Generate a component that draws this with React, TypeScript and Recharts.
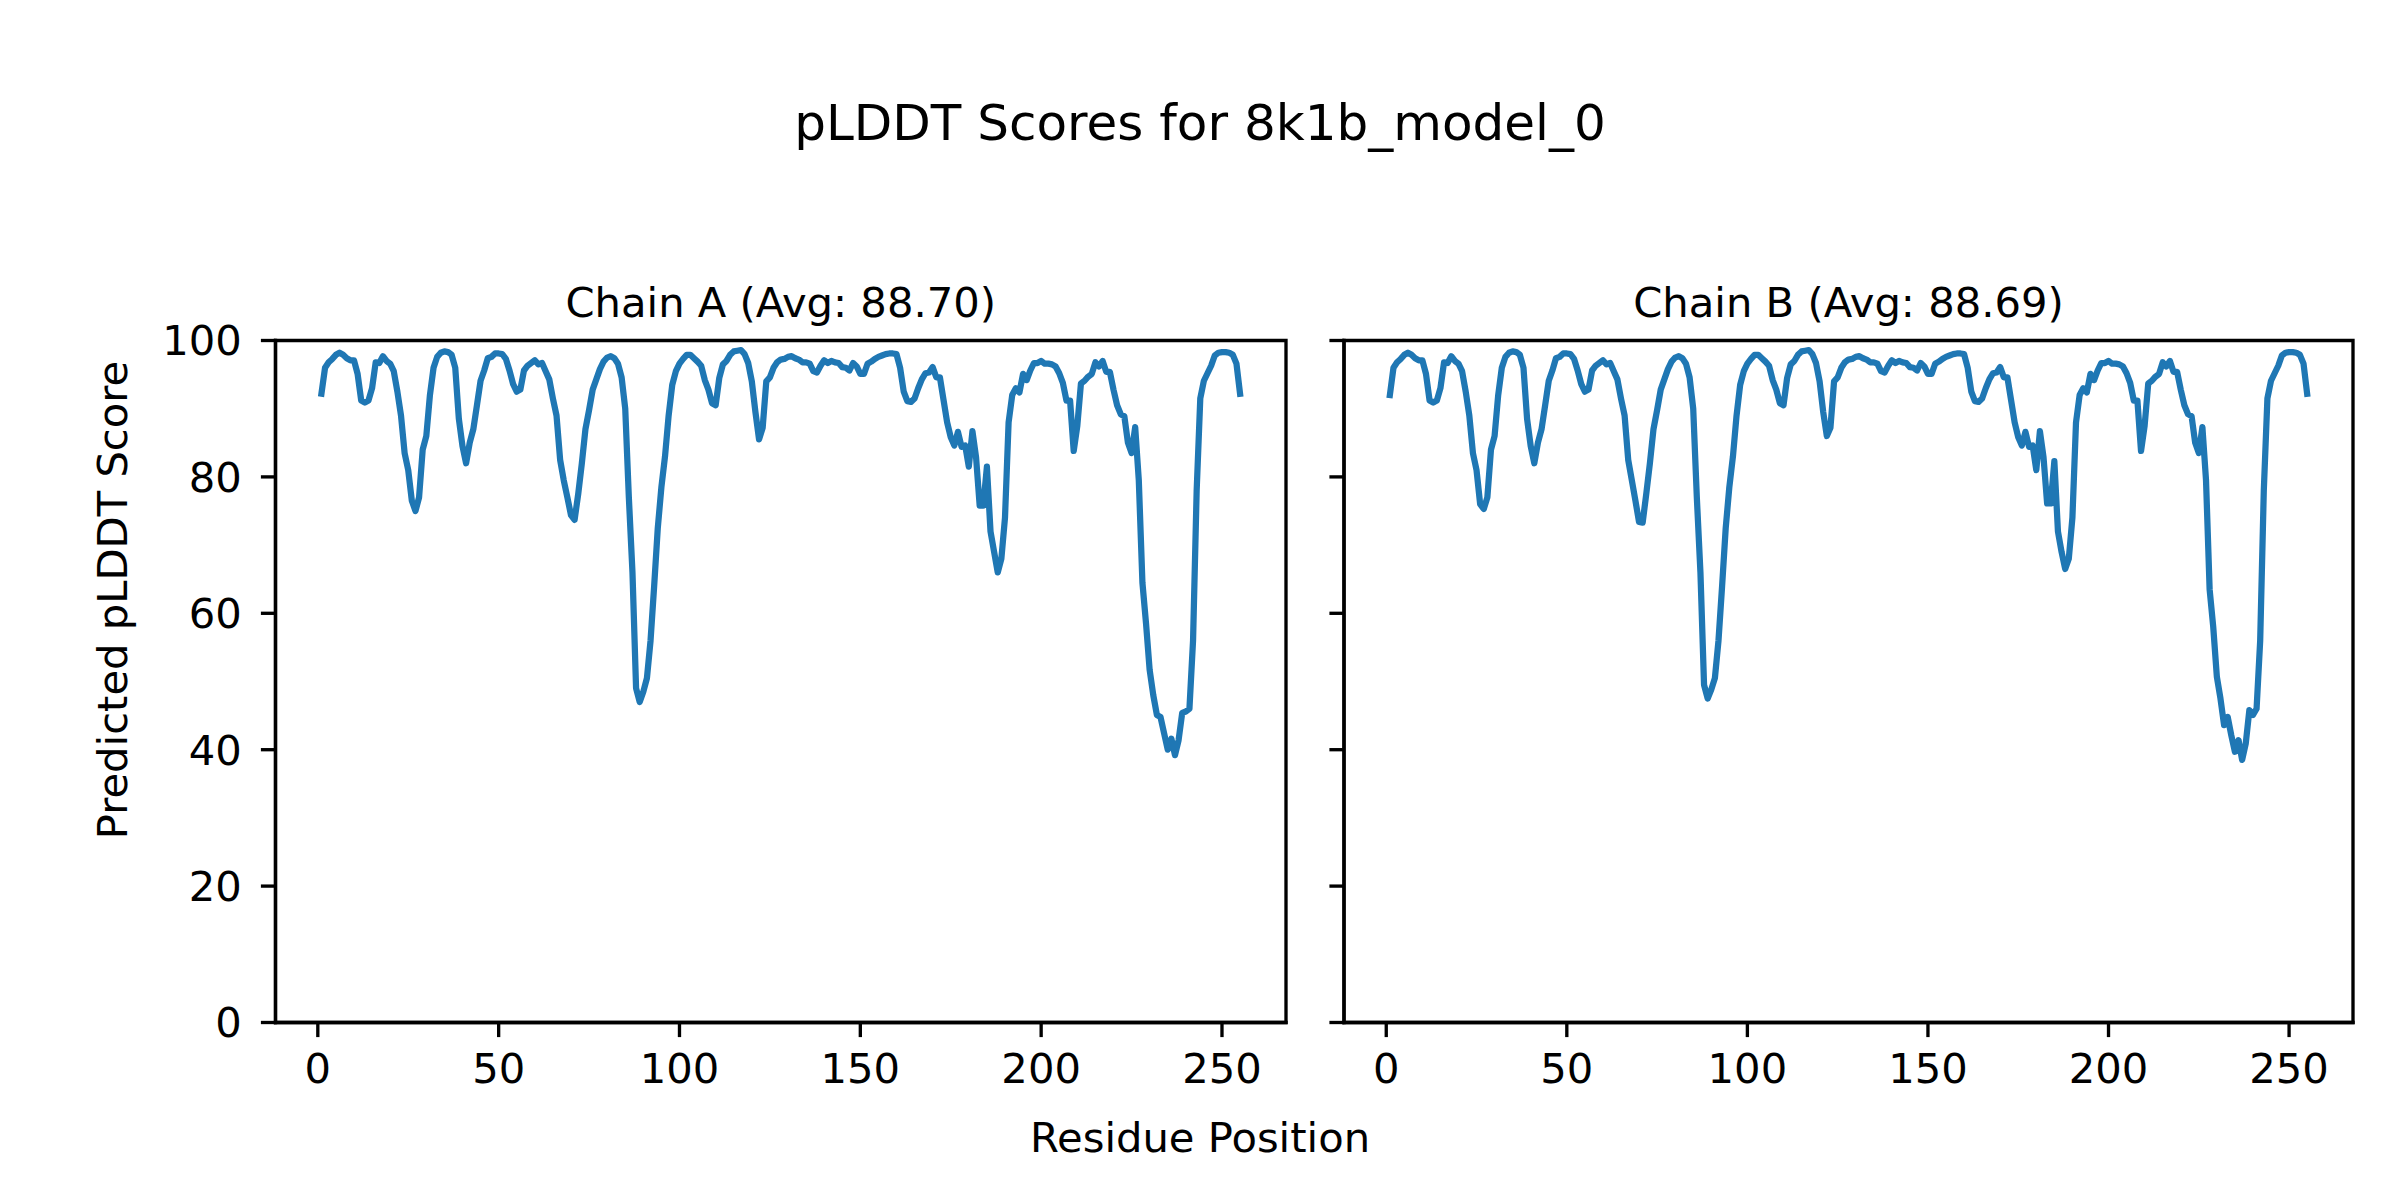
import { LineChart, Line, XAxis, YAxis, ReferenceArea } from 'recharts';

const FIG_TITLE = 'pLDDT Scores for 8k1b_model_0';
const X_LABEL = 'Residue Position';
const Y_LABEL = 'Predicted pLDDT Score';
const CHAIN_TITLES = ['Chain A (Avg: 88.70)', 'Chain B (Avg: 88.69)'];

const X_TICKS = [0, 50, 100, 150, 200, 250];
const Y_TICKS = [0, 20, 40, 60, 80, 100];

// per-residue pLDDT
const CHAIN_A = [
  92.2, 96.0, 96.8, 97.3, 97.9, 98.2, 97.9, 97.4, 97.1, 97.1,
  95.1, 91.2, 90.9, 91.2, 93.0, 96.8, 96.7, 97.7, 97.0, 96.6,
  95.5, 92.5, 89.0, 83.5, 81.0, 76.5, 75.0, 77.0, 84.0, 86.0,
  92.0, 96.0, 97.6, 98.2, 98.4, 98.3, 97.9, 96.0, 88.5, 84.5,
  82.0, 85.0, 87.0, 90.5, 94.1, 95.6, 97.4, 97.6, 98.1, 98.1,
  98.0, 97.3, 95.6, 93.6, 92.5, 92.8, 95.6, 96.3, 96.7, 97.1,
  96.5, 96.7, 95.5, 94.3, 91.5, 89.0, 82.5, 79.5, 77.0, 74.4,
  73.7, 77.5, 82.0, 87.0, 89.8, 92.8, 94.3, 95.8, 96.9, 97.5,
  97.7, 97.4, 96.6, 94.6, 90.0, 77.0, 66.0, 49.0, 47.0, 48.5,
  50.5, 56.0, 64.0, 72.5, 78.5, 83.0, 89.0, 93.5, 95.5, 96.6,
  97.3, 97.9, 97.9, 97.4, 96.9, 96.3, 94.2, 92.8, 90.8, 90.5,
  94.5, 96.5, 97.0, 97.9, 98.4, 98.5, 98.6, 98.0, 96.7, 94.0,
  89.5, 85.5, 87.2, 94.0, 94.6, 96.0, 96.8, 97.2, 97.3, 97.6,
  97.7, 97.4, 97.2, 96.8, 96.8, 96.6, 95.5, 95.3, 96.3, 97.1,
  96.7, 97.0, 96.8, 96.7, 96.1, 96.0, 95.6, 96.7, 96.2, 95.1,
  95.1, 96.6, 96.9, 97.3, 97.6, 97.8, 98.0, 98.1, 98.1, 98.0,
  96.0, 92.5, 91.1, 91.0, 91.5, 93.0, 94.3, 95.2, 95.3, 96.1,
  94.6, 94.6, 91.3, 88.0, 85.8, 84.6, 86.6, 84.4, 84.6, 81.5,
  86.7, 82.9, 75.8, 75.8, 81.5, 72.0, 69.0, 66.0, 68.0, 74.0,
  88.0, 92.0, 93.0, 92.4, 95.1, 94.2, 95.6, 96.7, 96.7, 97.0,
  96.6, 96.6, 96.5, 96.2, 95.2, 93.8, 91.2, 91.2, 83.8, 87.5,
  93.7, 94.1, 94.7, 95.1, 96.8, 96.2, 97.0, 95.4, 95.4, 92.8,
  90.5, 89.2, 88.9, 85.0, 83.5, 87.3, 79.5, 64.5, 58.5, 51.7,
  48.0, 45.1, 44.8, 42.4, 40.0, 41.6, 39.2, 41.4, 45.4, 45.6,
  46.0, 56.0, 78.0, 91.5, 94.1, 95.2, 96.3, 97.8, 98.2, 98.3,
  98.3, 98.2, 97.9, 96.6, 92.2,
];

const CHAIN_B = [
  92.0, 96.0, 96.8, 97.3, 97.9, 98.2, 97.9, 97.4, 97.1, 97.1,
  95.1, 91.2, 90.9, 91.2, 93.0, 96.8, 96.7, 97.7, 97.0, 96.6,
  95.5, 92.5, 89.0, 83.5, 81.0, 76.0, 75.3, 77.0, 84.0, 86.0,
  92.0, 96.0, 97.6, 98.2, 98.4, 98.3, 97.9, 96.0, 88.5, 84.5,
  82.0, 85.0, 87.0, 90.5, 94.1, 95.6, 97.4, 97.6, 98.1, 98.1,
  98.0, 97.3, 95.6, 93.6, 92.5, 92.8, 95.6, 96.3, 96.7, 97.1,
  96.5, 96.7, 95.5, 94.3, 91.5, 89.0, 82.5, 79.5, 76.5, 73.4,
  73.3, 77.5, 82.0, 87.0, 89.8, 92.8, 94.3, 95.8, 96.9, 97.5,
  97.7, 97.4, 96.6, 94.6, 90.0, 77.0, 66.0, 49.5, 47.5, 48.8,
  50.5, 56.0, 64.0, 72.5, 78.5, 83.0, 89.0, 93.5, 95.5, 96.6,
  97.3, 97.9, 97.9, 97.4, 96.9, 96.3, 94.2, 92.8, 90.8, 90.5,
  94.5, 96.5, 97.0, 97.9, 98.4, 98.5, 98.6, 98.0, 96.7, 94.0,
  89.5, 86.0, 87.2, 94.0, 94.6, 96.0, 96.8, 97.2, 97.3, 97.6,
  97.7, 97.4, 97.2, 96.8, 96.8, 96.6, 95.5, 95.3, 96.3, 97.1,
  96.7, 97.0, 96.8, 96.7, 96.1, 96.0, 95.6, 96.7, 96.2, 95.1,
  95.1, 96.6, 96.9, 97.3, 97.6, 97.8, 98.0, 98.1, 98.1, 98.0,
  96.0, 92.5, 91.1, 91.0, 91.5, 93.0, 94.3, 95.2, 95.3, 96.1,
  94.6, 94.6, 91.3, 88.0, 85.8, 84.6, 86.6, 84.4, 84.6, 81.0,
  86.7, 82.9, 76.1, 76.1, 82.3, 72.0, 69.0, 66.5, 68.0, 74.0,
  88.0, 92.0, 93.0, 92.4, 95.1, 94.2, 95.6, 96.7, 96.7, 97.0,
  96.6, 96.6, 96.5, 96.2, 95.2, 93.8, 91.2, 91.2, 83.8, 87.5,
  93.7, 94.1, 94.7, 95.1, 96.8, 96.2, 97.0, 95.4, 95.4, 92.8,
  90.5, 89.2, 88.9, 85.0, 83.5, 87.3, 79.5, 63.5, 58.0, 50.7,
  47.5, 43.6, 44.8, 42.1, 39.7, 41.4, 38.5, 40.9, 45.8, 45.1,
  46.0, 56.0, 78.0, 91.5, 94.1, 95.2, 96.3, 97.8, 98.2, 98.3,
  98.3, 98.2, 97.9, 96.6, 92.2,
];

const RESIDUES = CHAIN_A.map((_, i) => i + 1);

const LINE_COLOR = '#1f77b4';
const FONT = 'DejaVu Sans';
const FS = 41.7;
const SPINE = 3.33;
const X_DOMAIN: [number, number] = [-11.7, 267.7];
const Y_DOMAIN: [number, number] = [0, 100];

const spine = { stroke: '#000', strokeWidth: SPINE, strokeLinecap: 'square' as const };
const tickStyle = { fill: '#000', fontSize: FS, fontFamily: FONT };

function Panel({ scores, width, yAxisWidth, right, showYLabels }: {
  scores: number[];
  width: number;
  yAxisWidth: number;
  right: number;
  showYLabels: boolean;
}) {
  const data = RESIDUES.map((pos, i) => ({ pos, score: scores[i] }));
  return (
    <LineChart width={width} height={1200} data={data} margin={{ top: 340.5, right, bottom: 0, left: 0 }}>
      <XAxis
        dataKey="pos"
        type="number"
        domain={X_DOMAIN}
        ticks={X_TICKS}
        interval={0}
        allowDataOverflow
        height={177.5}
        tickSize={14.6}
        tickMargin={16}
        tick={tickStyle}
        tickLine={{ stroke: '#000', strokeWidth: SPINE }}
        axisLine={spine}
      />
      <YAxis
        type="number"
        domain={Y_DOMAIN}
        ticks={Y_TICKS}
        interval={0}
        allowDataOverflow
        width={yAxisWidth}
        tickSize={14.6}
        tickMargin={19}
        tick={tickStyle}
        tickFormatter={(v: number) => (showYLabels ? String(v) : '')}
        tickLine={{ stroke: '#000', strokeWidth: SPINE }}
        axisLine={spine}
      />
      <Line
        type="linear"
        dataKey="score"
        stroke={LINE_COLOR}
        strokeWidth={6.25}
        strokeLinejoin="round"
        strokeLinecap="square"
        dot={false}
        activeDot={false}
        isAnimationActive={false}
      />
      {/* axes frame (top and right spines) */}
      <ReferenceArea
        x1={X_DOMAIN[0]}
        x2={X_DOMAIN[1]}
        y1={Y_DOMAIN[0]}
        y2={Y_DOMAIN[1]}
        fill="none"
        fillOpacity={0}
        stroke="#000"
        strokeWidth={SPINE}
        strokeOpacity={1}
        ifOverflow="visible"
      />
    </LineChart>
  );
}

export default function App() {
  return (
    <div style={{ position: 'absolute', left: 0, top: 0, width: 2400, height: 1200, background: '#fff' }}>
      <div style={{ position: 'absolute', left: 0, top: 0 }}>
        <Panel scores={CHAIN_A} width={1320} yAxisWidth={275.5} right={34} showYLabels />
      </div>
      <div style={{ position: 'absolute', left: 1320, top: 0 }}>
        <Panel scores={CHAIN_B} width={1080} yAxisWidth={24} right={47} showYLabels={false} />
      </div>
      <svg width={2400} height={1200} style={{ position: 'absolute', left: 0, top: 0, pointerEvents: 'none' }}>
        <g fontFamily={FONT} fill="#000">
          <text x={1200} y={140} fontSize={50} textAnchor="middle">{FIG_TITLE}</text>
          <text x={780.75} y={317} fontSize={FS} textAnchor="middle">{CHAIN_TITLES[0]}</text>
          <text x={1848.5} y={317} fontSize={FS} textAnchor="middle">{CHAIN_TITLES[1]}</text>
          <text x={1200} y={1152} fontSize={FS} textAnchor="middle">{X_LABEL}</text>
          <text x={127} y={600} fontSize={FS} textAnchor="middle" transform="rotate(-90 127 600)">{Y_LABEL}</text>
        </g>
      </svg>
    </div>
  );
}
